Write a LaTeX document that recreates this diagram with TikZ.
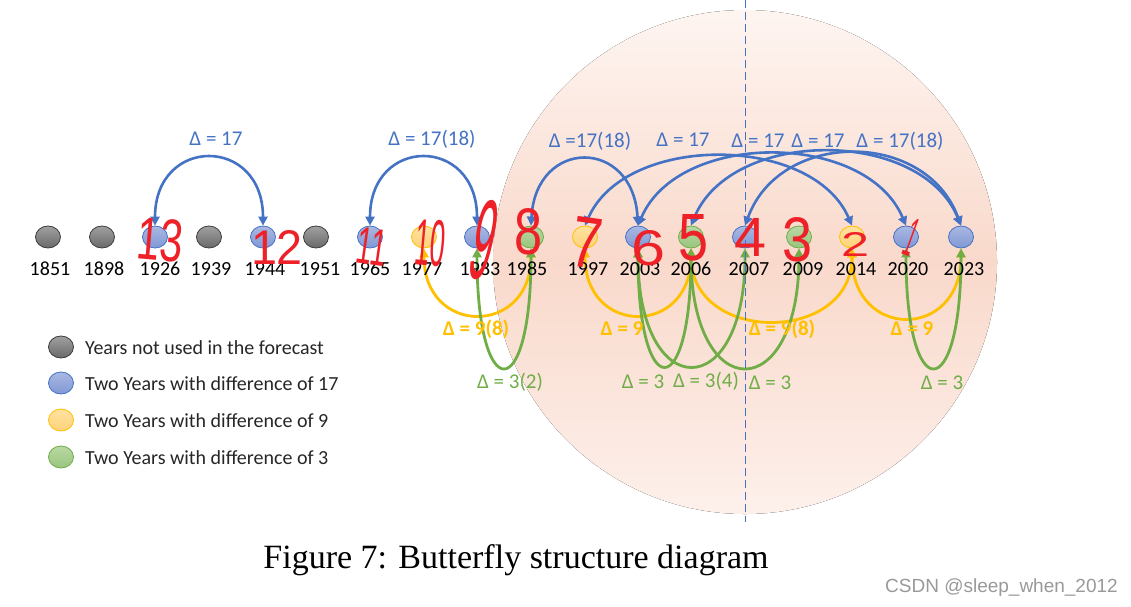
\documentclass[tikz,border=0pt]{standalone}
\usepackage{fontspec}
\usepackage{graphicx}
\setmainfont{Carlito}
\newfontfamily\capfont{Liberation Serif}
\newfontfamily\wmfont{Liberation Sans}
\newfontfamily\redfont{Liberation Sans}
\usetikzlibrary{shapes.geometric,arrows.meta}
\definecolor{cblue}{RGB}{68,114,196}
\definecolor{cyellow}{RGB}{255,192,0}
\definecolor{cgreen}{RGB}{112,173,71}
\definecolor{cred}{RGB}{238,32,40}
\definecolor{greyT}{RGB}{160,160,160}
\definecolor{greyB}{RGB}{105,105,105}
\definecolor{greyD}{RGB}{60,60,60}
\definecolor{blueT}{RGB}{170,184,226}
\definecolor{blueB}{RGB}{128,152,212}
\definecolor{yelT}{RGB}{255,226,160}
\definecolor{yelB}{RGB}{255,210,122}
\definecolor{grnT}{RGB}{186,216,164}
\definecolor{grnB}{RGB}{152,197,126}
\definecolor{pinkT}{RGB}{254,245,241}
\definecolor{pinkM}{RGB}{249,217,203}
\definecolor{pinkB}{RGB}{253,240,235}
\tikzset{
  yr/.style={ellipse, minimum width=25pt, minimum height=22pt, inner sep=0pt, line width=0.8pt},
  gnode/.style={yr, draw=greyD, top color=greyT, bottom color=greyB},
  bnode/.style={yr, draw=cblue, top color=blueT, bottom color=blueB},
  ynode/.style={yr, draw=cyellow, top color=yelT, bottom color=yelB},
  cnode/.style={yr, draw=cgreen, top color=grnT, bottom color=grnB},
  year/.style={font=\fontsize{20}{20}\selectfont, text=black, inner sep=0pt, anchor=base},
  legtext/.style={font=\fontsize{20}{20}\selectfont, text=black!85, inner sep=0pt, anchor=base west},
  blab/.style={font=\fontsize{21}{21}\selectfont, text=cblue, inner sep=0pt, anchor=base},
  ylab/.style={font=\fontsize{21}{21}\selectfont\bfseries, text=cyellow, inner sep=0pt, anchor=base},
  glab/.style={font=\fontsize{21}{21}\selectfont, text=cgreen, inner sep=0pt, anchor=base},
  barc/.style={draw=cblue, line width=2.6pt, arrows={Triangle[length=9pt,width=9pt]-Triangle[length=9pt,width=9pt]}},
  yarc/.style={draw=cyellow, line width=2.8pt, arrows={Triangle[length=9pt,width=9pt]-Triangle[length=9pt,width=9pt]}},
  garc/.style={draw=cgreen, line width=2.8pt, arrows={Triangle[length=9pt,width=9pt]-Triangle[length=9pt,width=9pt]}},
  reddig/.style={text=cred, font=\redfont, inner sep=0pt},
}
\begin{document}
\begin{tikzpicture}[x=1pt,y=-1pt]
\useasboundingbox (0,0) rectangle (1131,606);
% background circle
\fill[top color=pinkT, bottom color=pinkB, middle color=pinkM] (745,262) circle (252pt);

% year nodes
\node[gnode] (n1851) at (48,237) {};
\node[gnode] (n1898) at (102,237) {};
\node[bnode] (n1926) at (155,237) {};
\node[gnode] (n1939) at (209,237) {};
\node[bnode] (n1944) at (263,237) {};
\node[gnode] (n1951) at (316,237) {};
\node[bnode] (n1965) at (370,237) {};
\node[ynode] (n1977) at (424,237) {};
\node[bnode] (n1983) at (477,237) {};
\node[cnode] (n1985) at (531,237) {};
\node[ynode] (n1997) at (585,237) {};
\node[bnode] (n2003) at (638,237) {};
\node[cnode] (n2006) at (691,237) {};
\node[bnode] (n2007) at (745,237) {};
\node[cnode] (n2009) at (799,237) {};
\node[ynode] (n2014) at (852,237) {};
\node[bnode] (n2020) at (906,237) {};
\node[bnode] (n2023) at (961,237) {};

% blue arcs (top)
\draw[barc] (n1926.north) .. controls +(0,-90) and +(0,-90) .. (n1944.north);
\draw[barc] (n1965.north) .. controls +(0,-90) and +(0,-90) .. (n1983.north);
\draw[barc] (n1985.north) .. controls +(5,-88) and +(-5,-88) .. (n2003.north);
\draw[barc] (n1997.north) .. controls +(40,-92) and +(-40,-92) .. (n2014.north);
\draw[barc] (n2003.north) .. controls +(40,-95) and +(-40,-95) .. (n2020.north);
\draw[barc] (n2006.north) .. controls +(40,-98) and +(-40,-98) .. (n2023.north);
\draw[barc] (n2007.north) .. controls +(35,-96) and +(-35,-96) .. (n2023.north);

% yellow arcs (bottom)
\draw[yarc] (n1977.south) .. controls +(0,88) and +(0,88) .. (n1985.south);
\draw[yarc] (n1997.south) .. controls +(0,88) and +(0,88) .. (n2006.south);
\draw[yarc] (n2006.south) .. controls +(0,96) and +(0,96) .. (n2014.south);
\draw[yarc] (n2014.south) .. controls +(0,92) and +(0,92) .. (n2023.south);

% green arcs (bottom)
\draw[garc] (n1983.south) .. controls +(0,158) and +(0,158) .. (n1985.south);
\draw[garc] (n2003.south) .. controls +(0,156) and +(0,156) .. (n2006.south);
\draw[garc] (n2003.south) .. controls +(0,156) and +(0,156) .. (n2007.south);
\draw[garc] (n2006.south) .. controls +(0,158) and +(0,158) .. (n2009.south);
\draw[garc] (n2020.south) .. controls +(0,158) and +(0,158) .. (n2023.south);

% year labels
\node[year] (l1851) at (50,275.5) {1851};
\node[year] (l1898) at (104,275.5) {1898};
\node[year] (l1926) at (160,275.5) {1926};
\node[year] (l1939) at (211,275.5) {1939};
\node[year] (l1944) at (265,275.5) {1944};
\node[year] (l1951) at (320,275.5) {1951};
\node[year] (l1965) at (370,275.5) {1965};
\node[year] (l1977) at (422,275.5) {1977};
\node[year] (l1983) at (480,275.5) {1983};
\node[year] (l1985) at (527,275.5) {1985};
\node[year] (l1997) at (588,275.5) {1997};
\node[year] (l2003) at (640,275.5) {2003};
\node[year] (l2006) at (691,275.5) {2006};
\node[year] (l2007) at (749,275.5) {2007};
\node[year] (l2009) at (803,275.5) {2009};
\node[year] (l2014) at (856,275.5) {2014};
\node[year] (l2020) at (908,275.5) {2020};
\node[year] (l2023) at (964,275.5) {2023};

% delta labels
\node[blab] (d1) at (216,145) {Δ = 17};
\node[blab] (d2) at (432,145) {Δ = 17(18)};
\node[blab] (d3) at (590,147) {Δ =17(18)};
\node[blab] (d4) at (683,146) {Δ = 17};
\node[blab] (d5) at (758,147) {Δ = 17};
\node[blab] (d6) at (818,147) {Δ = 17};
\node[blab] (d7) at (900,147) {Δ = 17(18)};

\node[ylab] (y1) at (476,335) {Δ = 9(8)};
\node[ylab] (y2) at (622,335) {Δ = 9};
\node[ylab] (y3) at (782,335) {Δ = 9(8)};
\node[ylab] (y4) at (912,335) {Δ = 9};

\node[glab] (g1) at (510,388) {Δ = 3(2)};
\node[glab] (g2) at (643,388) {Δ = 3};
\node[glab] (g3) at (706,387) {Δ = 3(4)};
\node[glab] (g4) at (770,389) {Δ = 3};
\node[glab] (g5) at (942,389) {Δ = 3};

% dashed divider
\draw[cblue, line width=0.9pt, dash pattern=on 8pt off 4pt] (745,0) -- (745,522);

% legend
\node[gnode] (k1) at (61,347) {};
\node[bnode] (k2) at (61,383) {};
\node[ynode] (k3) at (61,420) {};
\node[cnode] (k4) at (61,457) {};
\node[legtext] (t1) at (85,354) {Years not used in the forecast};
\node[legtext] (t2) at (85,390) {Two Years with difference of 17};
\node[legtext] (t3) at (85,427) {Two Years with difference of 9};
\node[legtext] (t4) at (85,464) {Two Years with difference of 3};

% red handwritten numbers
\node[reddig, rotate=-5] (r13) at (160,240) {\resizebox{46pt}{42pt}{13}};
\node[reddig] (r12) at (277,247) {\resizebox{52pt}{34pt}{12}};
\node[reddig, rotate=-8] (r11) at (372,247) {\resizebox{30pt}{36pt}{11}};
\node[reddig, rotate=-5] (r10) at (430,243) {\resizebox{30pt}{46pt}{10}};
\node[reddig, rotate=-12] (r9) at (484,240) {\resizebox{22pt}{80pt}{9}};
\node[reddig] (r8) at (528,232) {\resizebox{28pt}{46pt}{8}};
\node[reddig, rotate=-8] (r7) at (587,243) {\resizebox{30pt}{50pt}{7}};
\node[reddig] (r6) at (648,248) {\resizebox{34pt}{35pt}{6}};
\node[reddig] (r5) at (693,238) {\resizebox{30pt}{46pt}{5}};
\node[reddig] (r4) at (750,237) {\resizebox{32pt}{38pt}{4}};
\node[reddig] (r3) at (797,240) {\resizebox{30pt}{44pt}{3}};
\node[reddig] (r2) at (855,244) {\resizebox{28pt}{24pt}{2}};
\node[reddig, rotate=-20] (r1) at (912,237) {\resizebox{10pt}{38pt}{1}};

% caption and watermark
\node[font=\capfont\fontsize{34}{34}\selectfont, inner sep=0pt, anchor=base] (cap) at (516,568) {Figure 7: Butterfly structure diagram};
\node[font=\wmfont\fontsize{19}{19}\selectfont, text=black!40, inner sep=0pt, anchor=base east] (wm) at (1118,592) {CSDN @sleep\_when\_2012};
\end{tikzpicture}
\end{document}
